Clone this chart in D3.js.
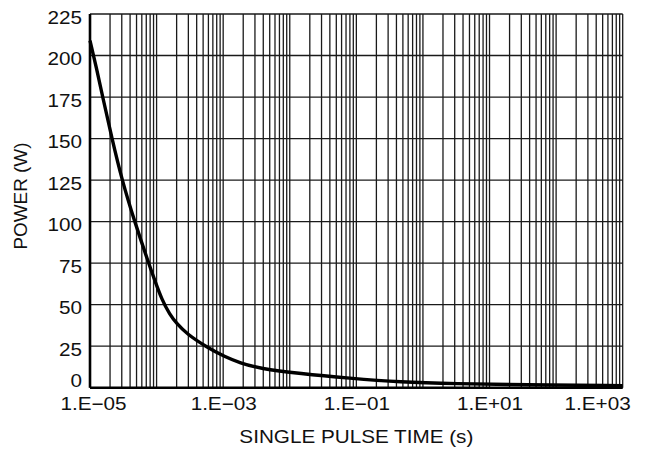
<!DOCTYPE html>
<html>
<head>
<meta charset="utf-8">
<script src="https://cdn.jsdelivr.net/npm/d3@7"></script>
<style>
  body { margin: 0; background: #fff; }
  text { font-family: "Liberation Sans", Arial, sans-serif; fill: #111; }
</style>
</head>
<body>
<div id="chart"></div>
<script>
// data
var pulseTime = [1e-5, 1.26e-5, 1.55e-5, 2.14e-5, 3.02e-5, 4.68e-5, 7.59e-5, 9.33e-5, 1.2e-4, 1.58e-4, 2.0e-4, 2.82e-4, 5.62e-4, 1.07e-3, 1.78e-3, 3.55e-3, 1.41e-2, 7.94e-2, 0.447, 3.16, 31.6, 1000];
var power =     [209,  192,     175,     150,     125,     100,     75,      65,      53,     44,      38.7,   32.5,    24.5,    18.5,    15,      11.5,    8.5,     5.7,     3.4,   2.4,  1.7,  1.2];
var yTicks = [0, 25, 50, 75, 100, 125, 150, 175, 200, 225];
var xTicks = [1e-5, 1e-3, 1e-1, 1e1, 1e3];
var xTickLabels = ["1.E\u221205", "1.E\u221203", "1.E\u221201", "1.E+01", "1.E+03"];

var svgWidth = 646;
var svgHeight = 455;
var margin = { top: 14, right: 23.3, bottom: 67.3, left: 90 };
var width = svgWidth - margin.left - margin.right;
var height = svgHeight - margin.top - margin.bottom;
var stretch = 1.15; // the lettering in the picture is a bit wide

var svg = d3.select("#chart")
  .append("svg")
  .attr("width", svgWidth)
  .attr("height", svgHeight);

var g = svg.append("g")
  .attr("transform", `translate(${margin.left}, ${margin.top})`);

var x = d3.scaleLog().domain([1e-5, 1e3]).range([0, width]);
var y = d3.scaleLinear().domain([0, 225]).range([height, 0]);

// vertical grid, 1..9 in each decade
var minor = [];
for (var e = -5; e < 3; e++) {
  for (var m = 1; m <= 9; m++) minor.push(m * Math.pow(10, e));
}
minor.push(1e3);

g.selectAll(".vgrid")
  .data(minor)
  .enter().append("line")
  .attr("x1", d => x(d)).attr("x2", d => x(d))
  .attr("y1", 0).attr("y2", height)
  .attr("stroke", "#1a1a1a")
  .attr("stroke-width", 1.3);

g.selectAll(".hgrid")
  .data(yTicks)
  .enter().append("line")
  .attr("x1", 0).attr("x2", width)
  .attr("y1", d => y(d)).attr("y2", d => y(d))
  .attr("stroke", "#1a1a1a")
  .attr("stroke-width", 1.3);

// axes lines (thicker left & bottom)
g.append("line").attr("x1", 0).attr("x2", 0).attr("y1", 0).attr("y2", height)
  .attr("stroke", "#000").attr("stroke-width", 2.6);
g.append("line").attr("x1", 0).attr("x2", width).attr("y1", height).attr("y2", height)
  .attr("stroke", "#000").attr("stroke-width", 2.6);

// tick labels
var yAxis = d3.axisLeft(y).tickValues(yTicks).tickSize(0).tickPadding(8);
g.append("g").call(yAxis)
  .call(s => s.select(".domain").remove())
  .selectAll("text")
  .attr("font-size", "18px")
  .style("font-family", "Liberation Sans, Arial, sans-serif")
  .attr("x", -8 / stretch)
  .attr("dy", d => d === 0 ? "-0.05em" : "0.5em")
  .attr("transform", `scale(${stretch},1)`);

var xAxis = d3.axisBottom(x).tickValues(xTicks).tickSize(0).tickPadding(10)
  .tickFormat((d, i) => xTickLabels[i]);
g.append("g").attr("transform", `translate(0, ${height})`).call(xAxis)
  .call(s => s.select(".domain").remove())
  .selectAll("text")
  .attr("font-size", "18px")
  .style("font-family", "Liberation Sans, Arial, sans-serif")
  .attr("text-anchor", (d, i) => i === xTicks.length - 1 ? "end" : "middle")
  .attr("x", (d, i) => i === 0 ? 3 / stretch : (i === xTicks.length - 1 ? 7.5 / stretch : 0))
  .attr("transform", `scale(${stretch},1)`);

// curve
var line = d3.line()
  .x((d, i) => x(pulseTime[i]))
  .y(d => y(d))
  .curve(d3.curveBasis);

g.append("path")
  .datum(power)
  .attr("d", line)
  .attr("fill", "none")
  .attr("stroke", "#000")
  .attr("stroke-width", 3.4)
  .attr("stroke-linejoin", "round");

// axis titles
svg.append("text")
  .attr("transform", `translate(${margin.left + width / 2}, 443) scale(${stretch},1)`)
  .attr("text-anchor", "middle")
  .attr("font-size", "18px")
  .text("SINGLE PULSE TIME (s)");

svg.append("text")
  .attr("transform", `translate(27, 196) rotate(-90) scale(1.05,1)`)
  .attr("text-anchor", "middle")
  .attr("font-size", "18px")
  .text("POWER (W)");
</script>
</body>
</html>
